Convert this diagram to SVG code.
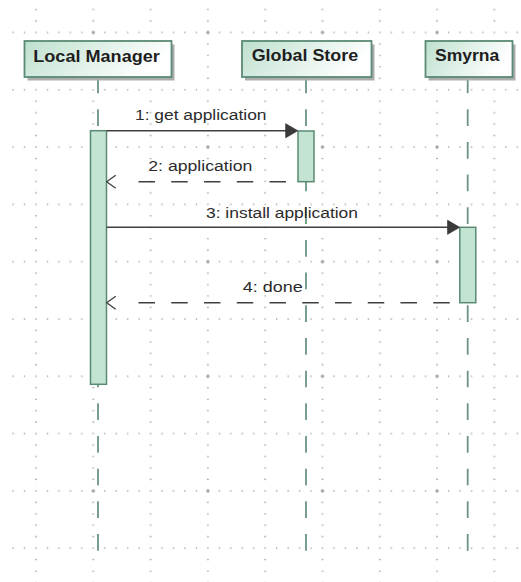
<svg xmlns="http://www.w3.org/2000/svg" xmlns:xlink="http://www.w3.org/1999/xlink" width="521" height="582" viewBox="0 0 521 582">
  <style>
    .title { font-family: "Liberation Sans", Arial, sans-serif; font-weight: bold; font-size: 16px; fill: #1e1e1e; }
    .label { font-family: "Liberation Sans", Arial, sans-serif; font-size: 15.4px; fill: #2c2c2c; }
    .box { fill: url(#boxFill); stroke: #5a8a73; stroke-width: 1.8; }
    .shadow { fill: #adadad; }
    .lifeline { stroke: #6a9581; stroke-width: 1.8; fill: none; stroke-dasharray: 16.7 15.97; }
    .activation { fill: #c3e4d3; stroke: #5a8a73; stroke-width: 1.5; }
    .msg { stroke: #404040; stroke-width: 1.4; fill: none; }
    .reply { stroke: #404040; stroke-width: 1.4; fill: none; stroke-dasharray: 16.5 16.25; }
    .head-filled { fill: #3a3a3a; stroke: #3a3a3a; stroke-width: 0.8; stroke-linejoin: round; }
    .head-open { fill: none; stroke: #404040; stroke-width: 1.3; }
  </style>
  <defs>
    <linearGradient id="boxFill" x1="0" y1="0" x2="1" y2="0.3">
      <stop offset="0" stop-color="#bde0ce"/>
      <stop offset="1" stop-color="#ffffff"/>
    </linearGradient>
    <!-- minor dots along the major grid rows and columns -->
    <pattern id="gridDots" patternUnits="userSpaceOnUse" x="35" y="31.5" width="57.3" height="57.3">
      <g fill="#969696">
        <circle cx="1" cy="1" r="0.8"/>
        <circle cx="12.46" cy="1" r="0.8"/>
        <circle cx="23.92" cy="1" r="0.8"/>
        <circle cx="35.38" cy="1" r="0.8"/>
        <circle cx="46.84" cy="1" r="0.8"/>
        <circle cx="1" cy="12.46" r="0.8"/>
        <circle cx="1" cy="23.92" r="0.8"/>
        <circle cx="1" cy="35.38" r="0.8"/>
        <circle cx="1" cy="46.84" r="0.8"/>
      </g>
    </pattern>
    <!-- small crosses every second major intersection -->
    <pattern id="gridCross" patternUnits="userSpaceOnUse" x="90.3" y="29.5" width="114.6" height="114.6">
      <path d="M1,3 H5 M3,1 V5" stroke="#969696" stroke-width="1.1"/>
    </pattern>
    <path id="arrowFilled" class="head-filled" d="M0,0 L-12,-7 L-12,7 Z"/>
    <path id="arrowOpen" class="head-open" d="M9,-6.5 L0,0 L9,6.5"/>
  </defs>

  <rect width="521" height="582" fill="#ffffff"/>

  <g id="grid">
    <rect x="10" y="8" width="510" height="574" fill="url(#gridDots)"/>
    <rect x="10" y="8" width="510" height="574" fill="url(#gridCross)"/>
  </g>

  <g id="local-manager">
    <line class="lifeline" x1="98" y1="76.6" x2="98" y2="552"/>
    <rect class="shadow" x="27.5" y="44.5" width="147" height="36"/>
    <rect class="box" x="24.5" y="41" width="147" height="36"/>
    <text class="title" x="33.3" y="61.5" textLength="126.5" lengthAdjust="spacingAndGlyphs">Local Manager</text>
    <rect class="activation" x="90.5" y="130.7" width="16" height="253.6"/>
  </g>

  <g id="global-store">
    <line class="lifeline" x1="306" y1="76.6" x2="306" y2="552"/>
    <rect class="shadow" x="245" y="44.5" width="129.5" height="36"/>
    <rect class="box" x="242" y="41" width="129.5" height="36"/>
    <text class="title" x="251.7" y="61.2" textLength="106.5" lengthAdjust="spacingAndGlyphs">Global Store</text>
    <rect class="activation" x="298" y="131" width="16" height="50.7"/>
  </g>

  <g id="smyrna">
    <line class="lifeline" x1="467.7" y1="76.6" x2="467.7" y2="552"/>
    <rect class="shadow" x="428.5" y="44.5" width="87" height="36"/>
    <rect class="box" x="425.5" y="41" width="87" height="36"/>
    <text class="title" x="435" y="61.2" textLength="64.3" lengthAdjust="spacingAndGlyphs">Smyrna</text>
    <rect class="activation" x="459.8" y="227.3" width="16" height="75.4"/>
  </g>

  <g id="messages">
    <!-- 1: get application -->
    <path class="msg" d="M106.7,130.7 H288"/>
    <use xlink:href="#arrowFilled" x="297.7" y="130.7"/>
    <text class="label" x="135" y="120.3" textLength="131.5" lengthAdjust="spacingAndGlyphs">1: get application</text>

    <!-- 2: application -->
    <path class="reply" d="M138.5,181.7 H297.7"/>
    <use xlink:href="#arrowOpen" x="106.7" y="181.7"/>
    <text class="label" x="148.3" y="171" textLength="104" lengthAdjust="spacingAndGlyphs">2: application</text>

    <!-- 3: install application -->
    <path class="msg" d="M106.7,227.3 H450"/>
    <use xlink:href="#arrowFilled" x="459.6" y="227.3"/>
    <text class="label" x="206" y="217.5" textLength="152" lengthAdjust="spacingAndGlyphs">3: install application</text>

    <!-- 4: done -->
    <path class="reply" d="M138.5,302.7 H459.5"/>
    <use xlink:href="#arrowOpen" x="106.7" y="302.7"/>
    <text class="label" x="242.7" y="292" textLength="60" lengthAdjust="spacingAndGlyphs">4: done</text>
  </g>
</svg>
